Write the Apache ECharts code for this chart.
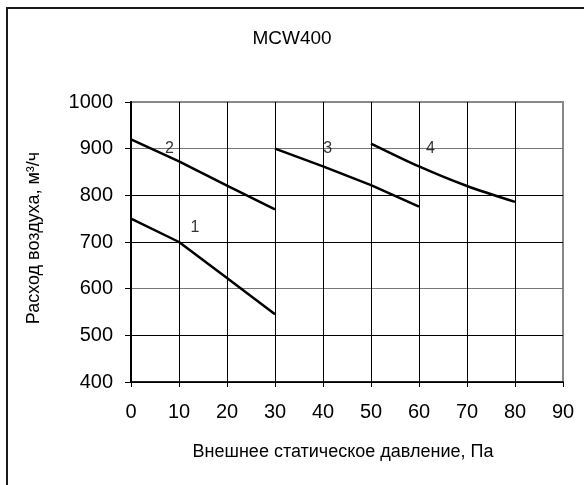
<!DOCTYPE html>
<html>
<head>
<meta charset="utf-8">
<script src="https://cdn.jsdelivr.net/npm/echarts@6/dist/echarts.min.js"></script>
<style>
html,body{margin:0;padding:0;background:#fff;}
#c{width:584px;height:485px;}
</style>
</head>
<body>
<div id="c"></div>
<script>
// Data
var titleText = 'MCW400';
var xName = 'Внешнее статическое давление, Па';
var yName = 'Расход воздуха, м³/ч';

var curve1X = [0, 10, 20, 30];
var curve1Y = [750, 700, 623, 545];
var curve2X = [0, 10, 20, 30];
var curve2Y = [920, 873, 821, 770];
var curve3X = [30, 40, 50, 60];
var curve3Y = [900, 862, 822, 776];
var curve4X = [50, 60, 70, 80];
var curve4Y = [911, 862, 820, 786];

var labelNames = ['1', '2', '3', '4'];
var labelX = [13.3, 8, 41, 62.4];
var labelY = [731, 900, 900, 900];

function pairs(xs, ys) { return xs.map(function (x, i) { return [x, ys[i]]; }); }

var font = '"Liberation Sans", Arial, sans-serif';
var chart = echarts.init(document.getElementById('c'), null, {renderer: 'canvas'});

function lineSeries(xs, ys, smooth) {
  return {
    type: 'line',
    data: pairs(xs, ys),
    showSymbol: false,
    smooth: smooth,
    lineStyle: {color: '#000', width: 2.5},
    z: 5
  };
}

chart.setOption({
  animation: false,
  backgroundColor: '#fff',
  title: {
    text: titleText,
    left: 'center',
    top: 24,
    textStyle: {fontFamily: font, fontSize: 19, fontWeight: 'normal', color: '#000'}
  },
  graphic: [{
    type: 'rect',
    shape: {x: 7, y: 8, width: 640, height: 540},
    style: {fill: null, stroke: '#1a1a1a', lineWidth: 2},
    silent: true
  }],
  grid: {
    left: 131, top: 102, width: 432, height: 280,
    show: true, borderColor: '#888', borderWidth: 2, backgroundColor: 'transparent'
  },
  xAxis: {
    type: 'value', min: 0, max: 90, interval: 10,
    name: xName, nameLocation: 'middle', nameGap: 61,
    nameTextStyle: {fontFamily: font, fontSize: 18, color: '#000', padding: [0, 8, 0, 0]},
    axisLine: {show: true, onZero: false, lineStyle: {color: '#000', width: 1.5}},
    axisTick: {show: true, inside: false, length: 5, lineStyle: {color: '#000', width: 1}},
    axisLabel: {fontFamily: font, fontSize: 20, color: '#000', margin: 20, formatter: function (v) { return String(v); }},
    splitLine: {show: true, lineStyle: {color: ['#000','#000','#000','#000','#000','#000','#000','#000','#000','#888'], width: 1}}
  },
  yAxis: {
    type: 'value', min: 400, max: 1000, interval: 100,
    name: yName, nameLocation: 'middle', nameGap: 88,
    nameTextStyle: {fontFamily: font, fontSize: 18, color: '#000', padding: [0, 0, 0, 8]},
    axisLine: {show: true, onZero: false, lineStyle: {color: '#000', width: 2}},
    axisTick: {show: true, inside: false, length: 6, lineStyle: {color: '#000', width: 1}},
    axisLabel: {fontFamily: font, fontSize: 20, color: '#000', margin: 18, formatter: function (v) { return String(v); }},
    splitLine: {show: true, lineStyle: {color: ['#000','#000','#777','#000','#000','#777','#888'], width: 1}}
  },
  series: [
    lineSeries(curve1X, curve1Y, false),
    lineSeries(curve2X, curve2Y, false),
    lineSeries(curve3X, curve3Y, false),
    lineSeries(curve4X, curve4Y, 0.3),
    {
      type: 'scatter',
      symbolSize: 0,
      data: labelNames.map(function (n, i) { return {name: n, value: [labelX[i], labelY[i]]}; }),
      label: {
        show: true, position: 'inside', formatter: '{b}',
        fontFamily: font, fontSize: 16, color: '#000'
      },
      z: 6
    }
  ]
});
</script>
</body>
</html>
